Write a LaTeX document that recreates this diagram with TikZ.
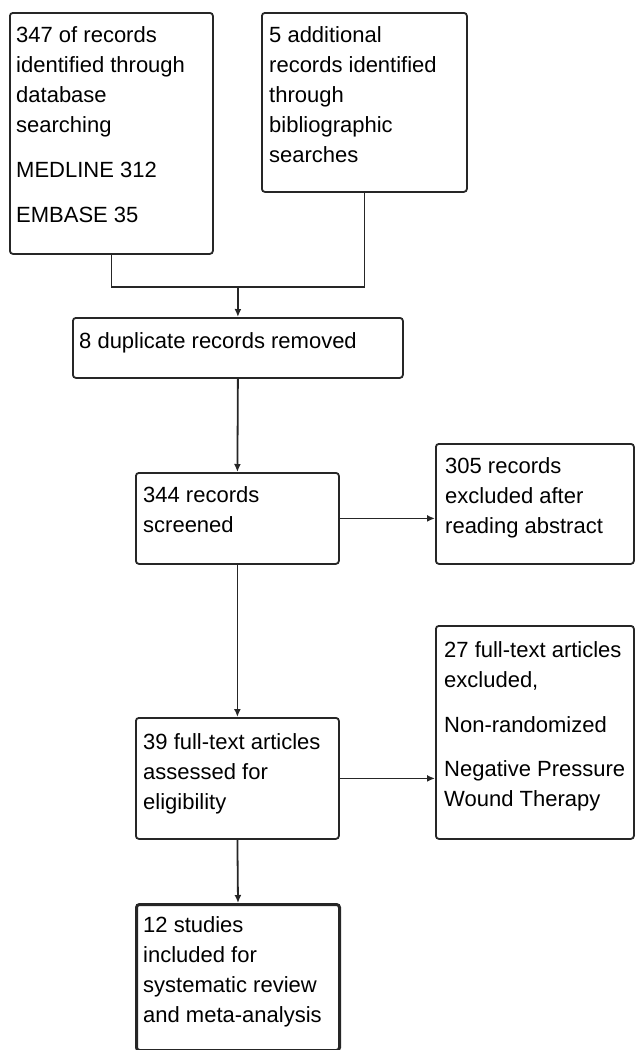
\documentclass[tikz,border=0pt]{standalone}
\usepackage{fontspec}
\setmainfont{Liberation Sans}
\usetikzlibrary{arrows.meta}
\begin{document}
\begin{tikzpicture}[x=1pt,y=1pt,
  box/.style={draw=black!85, line width=1.8pt, rounded corners=3pt, rectangle, anchor=north west, inner sep=0pt},
  txt/.style={anchor=north west, inner sep=0pt, align=left, font=\fontsize{22}{30}\selectfont},
  conn/.style={draw=black!85, line width=1.8pt},
  arr/.style={conn, -{Latex[length=8pt,width=7pt]}}]
\useasboundingbox (0,0) rectangle (637,-1050);
% boxes
\node[box, minimum width=203pt, minimum height=241pt] (b1) at (9,-12) {};
\node[box, minimum width=205pt, minimum height=179pt] (b2) at (261,-12) {};
\node[box, minimum width=330pt, minimum height=60pt] (b3) at (72,-317) {};
\node[box, minimum width=203pt, minimum height=91pt] (b4) at (135,-472) {};
\node[box, minimum width=198pt, minimum height=120pt] (b5) at (435,-443) {};
\node[box, minimum width=203pt, minimum height=121pt] (b6) at (135,-717) {};
\node[box, minimum width=198pt, minimum height=213pt] (b7) at (435,-625) {};
\node[box, line width=3pt, minimum width=203pt, minimum height=146pt] (b8) at (135,-903) {};
% texts
\node[txt] (t1) at (16,-21) {\strut 347 of records\\identified through\\database\\searching\\[15pt]MEDLINE 312\\[15pt]EMBASE 35};
\node[txt] (t2) at (269,-21) {\strut 5 additional\\records identified\\through\\bibliographic\\searches};
\node[txt] (t3) at (79,-327) {\strut 8 duplicate records removed};
\node[txt] (t4) at (143,-481) {\strut 344 records\\screened};
\node[txt] (t5) at (445,-452) {\strut 305 records\\excluded after\\reading abstract};
\node[txt] (t6) at (143,-728) {\strut 39 full-text articles\\assessed for\\eligibility};
\node[txt] (t7) at (444,-636) {\strut 27 full-text articles\\excluded,\\[15pt]Non-randomized\\[14pt]Negative Pressure\\Wound Therapy};
\node[txt] (t8) at (143,-911) {\strut 12 studies\\included for\\systematic review\\and meta-analysis};
% connectors
\coordinate (j) at (238,-287);
\draw[conn] (b1.south) |- (j) -| (b2.south);
\draw[arr] (j) -- (b3.north);
\draw[arr] (b3.south) -- (b4.north);
\draw[arr] (b4.east) -- (b5.west |- b4.east);
\draw[arr] (b4.south) -- (b6.north);
\draw[arr] (b6.east) -- (b7.west |- b6.east);
\draw[arr] (b6.south) -- (b8.north);
\end{tikzpicture}
\end{document}
